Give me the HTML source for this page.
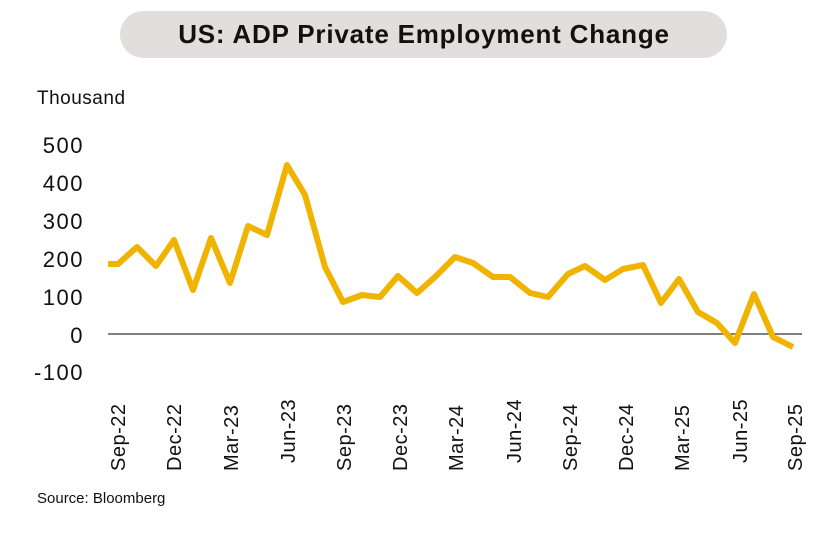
<!DOCTYPE html>
<html><head><style>
body{margin:0;width:840px;height:529px;background:#fff;overflow:hidden;font-family:"Liberation Sans",sans-serif;}
</style></head><body>
<svg width="840" height="529" xmlns="http://www.w3.org/2000/svg" font-family="Liberation Sans, sans-serif">
<rect x="120" y="11" width="607" height="47" rx="23.5" fill="#e2dedd"/>
<text x="424" y="43" text-anchor="middle" font-size="26" font-weight="bold" letter-spacing="0.8" fill="#111">US: ADP Private Employment Change</text>
<text x="37" y="104" font-size="19" letter-spacing="0.5" fill="#111">Thousand</text>
<g font-size="22" fill="#111" text-anchor="end" letter-spacing="1.5">
<text x="84" y="153">500</text>
<text x="84" y="191">400</text>
<text x="84" y="229">300</text>
<text x="84" y="267">200</text>
<text x="84" y="305">100</text>
<text x="84" y="343">0</text>
<text x="84" y="380">-100</text>
</g>
<line x1="108" y1="334" x2="802" y2="334" stroke="#333" stroke-width="1.3"/>
<polyline fill="none" stroke="#f0b400" stroke-width="6" stroke-linejoin="round" points="108,264 118,264 137,247 156,266 174,240 193,290 211,238 230,283 248,226 267,235 287,165 305,195 325,267 343,302 362,295 380,297 398,276 417,293 435,277 448,264 455,257 473,263 493,277 510,277 530,293 548,297 568,274 585,266 605,280 623,269 643,265 661,303 679,279 698,312 717,323 735,343 754,294 773,337 793,347"/>
<g font-size="20" fill="#111" letter-spacing="0.5">
<text transform="translate(125,471) rotate(-90)">Sep-22</text>
<text transform="translate(181,471) rotate(-90)">Dec-22</text>
<text transform="translate(238,471) rotate(-90)">Mar-23</text>
<text transform="translate(295,463) rotate(-90)">Jun-23</text>
<text transform="translate(351,471) rotate(-90)">Sep-23</text>
<text transform="translate(407,471) rotate(-90)">Dec-23</text>
<text transform="translate(463,471) rotate(-90)">Mar-24</text>
<text transform="translate(521,463) rotate(-90)">Jun-24</text>
<text transform="translate(577,471) rotate(-90)">Sep-24</text>
<text transform="translate(633,471) rotate(-90)">Dec-24</text>
<text transform="translate(689,471) rotate(-90)">Mar-25</text>
<text transform="translate(747,463) rotate(-90)">Jun-25</text>
<text transform="translate(802,471) rotate(-90)">Sep-25</text>
</g>
<text x="37" y="503" font-size="15" fill="#111">Source: Bloomberg</text>
</svg>
</body></html>
